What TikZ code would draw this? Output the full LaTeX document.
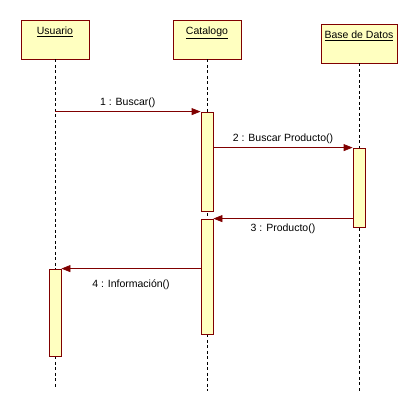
\documentclass[tikz,border=0pt]{standalone}
\usepackage{fontspec}
\setmainfont{Liberation Sans}
\usetikzlibrary{arrows.meta}
\definecolor{umlred}{RGB}{128,0,0}
\definecolor{umlfill}{RGB}{255,255,192}

\begin{document}
\begin{tikzpicture}
[x=1pt,y=-1pt,>={Triangle[length=9pt,width=7pt]},
obj/.style={draw=umlred,fill=umlfill,line width=0.8pt,minimum width=68pt,minimum height=39pt,inner sep=0pt},
bar/.style={draw=umlred,fill=umlfill,line width=0.8pt,minimum width=12pt,inner sep=0pt},
life/.style={line width=0.7pt,dash pattern=on 3pt off 2.5pt},
msg/.style={->,draw=umlred,line width=0.8pt},
txt/.style={font=\fontsize{10.5}{12}\selectfont,inner sep=0pt},]

\useasboundingbox (0,0) rectangle (418,412);

%Lifeline positions
\def\xu{55}
\def\xc{207}
\def\xb{359}

%Objects
\node (U) at (\xu,39.5)[obj] {};
\node (C) at (\xc,39.5)[obj] {};
\node (B) at (\xb,43.5)[obj,minimum width=76pt] {};
\node (Ut) at ([yshift=-7pt]U.north)[txt,anchor=north] {\underline{Usuario}};
\node (Ct) at ([yshift=-7pt]C.north)[txt,anchor=north] {\underline{Catalogo}};
\node (Bt) at ([yshift=-7pt]B.north)[txt,anchor=north] {\underline{Base de Datos}};

%Lifelines
\coordinate (Uend) at (\xu,387);
\coordinate (Cend) at (\xc,391);
\coordinate (Bend) at (\xb,391);
\draw[life] (U.south) -- (Uend);
\draw[life] (C.south) -- (Cend);
\draw[life] (B.south) -- (Bend);

%Activations
\node (C1) at (\xc,161.5)[bar,minimum height=99pt] {};
\node (C2) at (\xc,276.5)[bar,minimum height=115pt] {};
\node (B1) at (\xb,187.5)[bar,minimum height=79pt] {};
\node (U1) at (\xu,312.5)[bar,minimum height=87pt] {};

%Messages
\draw[msg] (U.south |- C1.north west) -- (C1.north west)
  node[txt,midway,above=4pt] {1 : Buscar()};
\draw[msg] (C1.east |- B1.north west) -- (B1.north west)
  node[txt,midway,above=4pt] {2 : Buscar Producto()};
\draw[msg] (B1.west |- C2.north east) -- (C2.north east)
  node[txt,midway,below=5pt] {3 : Producto()};
\draw[msg] (C2.west |- U1.north east) -- (U1.north east)
  node[txt,midway,below=11pt] {4 : Información()};

\end{tikzpicture}
\end{document}
